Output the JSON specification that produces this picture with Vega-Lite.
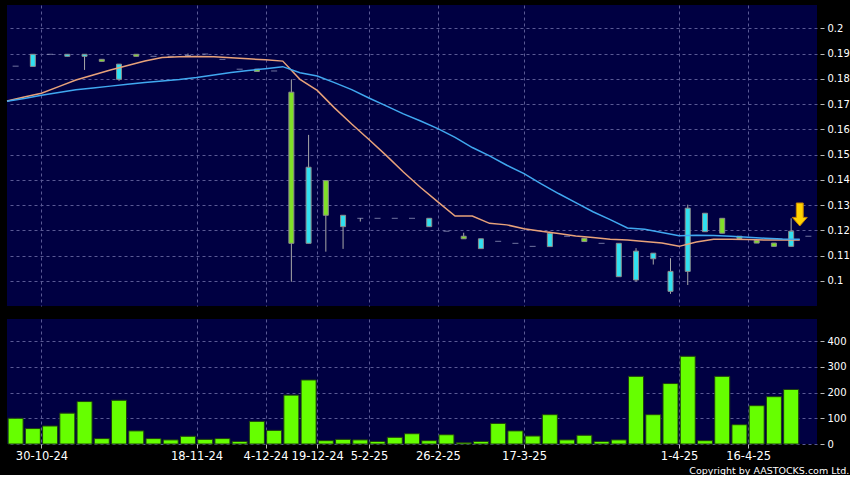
{
  "$schema": "https://vega.github.io/schema/vega-lite/v6.json",
  "background": "#000000",
  "padding": {"left": 4, "top": 5, "right": 0, "bottom": 0},
  "autosize": {"type": "pad"},
  "config": {
    "view": {"fill": "#000042", "stroke": null},
    "scale": {"continuousPadding": 0},
    "axis": {"gridColor": "#5a5a95", "gridDash": [3, 3], "gridWidth": 1, "labelColor": "#ffffff", "tickColor": "#bbbbbb", "domain": false, "labelFont": "DejaVu Sans", "titleFont": "DejaVu Sans"}
  },
  "title": {"text": "Copyright by AASTOCKS.com Ltd.", "orient": "bottom", "anchor": "end", "fontSize": 9.5, "fontWeight": "normal", "color": "#ffffff", "font": "DejaVu Sans", "offset": 4},
  "datasets": {
    "candles": [
      {"i": 0, "o": 0.185, "h": 0.185, "l": 0.185, "c": 0.185, "v": 100},
      {"i": 1, "o": 0.1849, "h": 0.1897, "l": 0.1849, "c": 0.1897, "v": 60},
      {"i": 2, "o": 0.1897, "h": 0.1897, "l": 0.1897, "c": 0.1897, "v": 70},
      {"i": 3, "o": 0.1889, "h": 0.1897, "l": 0.1889, "c": 0.1897, "v": 120},
      {"i": 4, "o": 0.1889, "h": 0.1897, "l": 0.1835, "c": 0.1897, "v": 165},
      {"i": 5, "o": 0.1877, "h": 0.1877, "l": 0.1869, "c": 0.1869, "v": 21},
      {"i": 6, "o": 0.1798, "h": 0.1858, "l": 0.1792, "c": 0.1858, "v": 170},
      {"i": 7, "o": 0.1897, "h": 0.1897, "l": 0.1889, "c": 0.1889, "v": 51},
      {"i": 8, "o": 0.1889, "h": 0.1889, "l": 0.1889, "c": 0.1889, "v": 21},
      {"i": 9, "o": 0.1889, "h": 0.1889, "l": 0.1889, "c": 0.1889, "v": 16},
      {"i": 10, "o": 0.1892, "h": 0.19, "l": 0.1892, "c": 0.1892, "v": 30},
      {"i": 11, "o": 0.1898, "h": 0.1898, "l": 0.1898, "c": 0.1898, "v": 18},
      {"i": 12, "o": 0.1877, "h": 0.1877, "l": 0.1877, "c": 0.1877, "v": 21},
      {"i": 13, "o": 0.1838, "h": 0.1838, "l": 0.1838, "c": 0.1838, "v": 10},
      {"i": 14, "o": 0.1838, "h": 0.1838, "l": 0.1829, "c": 0.1829, "v": 88},
      {"i": 15, "o": 0.1831, "h": 0.1831, "l": 0.1831, "c": 0.1831, "v": 53},
      {"i": 16, "o": 0.1747, "h": 0.1798, "l": 0.0997, "c": 0.1149, "v": 190},
      {"i": 17, "o": 0.1149, "h": 0.1578, "l": 0.1149, "c": 0.145, "v": 249},
      {"i": 18, "o": 0.1397, "h": 0.1397, "l": 0.1116, "c": 0.126, "v": 13},
      {"i": 19, "o": 0.1215, "h": 0.126, "l": 0.1127, "c": 0.126, "v": 18},
      {"i": 20, "o": 0.1248, "h": 0.1248, "l": 0.1235, "c": 0.1248, "v": 16},
      {"i": 21, "o": 0.1248, "h": 0.1248, "l": 0.1248, "c": 0.1248, "v": 10},
      {"i": 22, "o": 0.1248, "h": 0.1248, "l": 0.1248, "c": 0.1248, "v": 26},
      {"i": 23, "o": 0.1248, "h": 0.1248, "l": 0.1248, "c": 0.1248, "v": 40},
      {"i": 24, "o": 0.1215, "h": 0.1248, "l": 0.1215, "c": 0.1248, "v": 13},
      {"i": 25, "o": 0.1197, "h": 0.1197, "l": 0.1197, "c": 0.1197, "v": 36},
      {"i": 26, "o": 0.1177, "h": 0.1191, "l": 0.1167, "c": 0.1167, "v": 5},
      {"i": 27, "o": 0.1128, "h": 0.1167, "l": 0.1128, "c": 0.1167, "v": 10},
      {"i": 28, "o": 0.1157, "h": 0.1157, "l": 0.1157, "c": 0.1157, "v": 80},
      {"i": 29, "o": 0.1149, "h": 0.1149, "l": 0.1149, "c": 0.1149, "v": 51},
      {"i": 30, "o": 0.1137, "h": 0.1137, "l": 0.1137, "c": 0.1137, "v": 31},
      {"i": 31, "o": 0.1136, "h": 0.1195, "l": 0.1136, "c": 0.1189, "v": 114},
      {"i": 32, "o": 0.1177, "h": 0.1177, "l": 0.1177, "c": 0.1177, "v": 16},
      {"i": 33, "o": 0.1169, "h": 0.1169, "l": 0.1156, "c": 0.1156, "v": 34},
      {"i": 34, "o": 0.1149, "h": 0.1149, "l": 0.1149, "c": 0.1149, "v": 10},
      {"i": 35, "o": 0.1017, "h": 0.1149, "l": 0.1017, "c": 0.1149, "v": 16},
      {"i": 36, "o": 0.1004, "h": 0.113, "l": 0.0997, "c": 0.1118, "v": 263},
      {"i": 37, "o": 0.1088, "h": 0.111, "l": 0.1065, "c": 0.111, "v": 114},
      {"i": 38, "o": 0.0959, "h": 0.109, "l": 0.0949, "c": 0.1038, "v": 235},
      {"i": 39, "o": 0.1038, "h": 0.1302, "l": 0.0984, "c": 0.1288, "v": 341},
      {"i": 40, "o": 0.1195, "h": 0.1268, "l": 0.1195, "c": 0.1268, "v": 13},
      {"i": 41, "o": 0.1248, "h": 0.1248, "l": 0.1189, "c": 0.1189, "v": 263},
      {"i": 42, "o": 0.1177, "h": 0.1177, "l": 0.1168, "c": 0.1168, "v": 75},
      {"i": 43, "o": 0.116, "h": 0.116, "l": 0.115, "c": 0.115, "v": 149},
      {"i": 44, "o": 0.115, "h": 0.115, "l": 0.1137, "c": 0.1137, "v": 184},
      {"i": 45, "o": 0.1137, "h": 0.1248, "l": 0.1137, "c": 0.1197, "v": 212},
      {"i": 46, "o": 0.1177, "h": 0.1177, "l": 0.1177, "c": 0.1177}
    ],
    "ma": [
      {"i": -1, "m1": 0.1712, "m2": 0.1711},
      {"i": 0, "m1": 0.1728, "m2": 0.1722},
      {"i": 1, "m1": 0.1743, "m2": 0.1735},
      {"i": 2, "m1": 0.1769, "m2": 0.1746},
      {"i": 3, "m1": 0.1795, "m2": 0.1757},
      {"i": 4, "m1": 0.1815, "m2": 0.1764},
      {"i": 5, "m1": 0.1835, "m2": 0.1771},
      {"i": 6, "m1": 0.1853, "m2": 0.1778},
      {"i": 7, "m1": 0.187, "m2": 0.1785},
      {"i": 8, "m1": 0.1884, "m2": 0.1791},
      {"i": 9, "m1": 0.1887, "m2": 0.1797},
      {"i": 10, "m1": 0.1888, "m2": 0.1805},
      {"i": 11, "m1": 0.1887, "m2": 0.1815},
      {"i": 12, "m1": 0.1883, "m2": 0.1825},
      {"i": 13, "m1": 0.1879, "m2": 0.1833},
      {"i": 14, "m1": 0.1875, "m2": 0.184},
      {"i": 15, "m1": 0.187, "m2": 0.1848},
      {"i": 16, "m1": 0.1798, "m2": 0.1824},
      {"i": 17, "m1": 0.1754, "m2": 0.1811},
      {"i": 18, "m1": 0.1685, "m2": 0.1785},
      {"i": 19, "m1": 0.1621, "m2": 0.1757},
      {"i": 20, "m1": 0.156, "m2": 0.1724},
      {"i": 21, "m1": 0.1497, "m2": 0.1693},
      {"i": 22, "m1": 0.1431, "m2": 0.1661},
      {"i": 23, "m1": 0.137, "m2": 0.1633},
      {"i": 24, "m1": 0.1313, "m2": 0.1603},
      {"i": 25, "m1": 0.1257, "m2": 0.1568},
      {"i": 26, "m1": 0.1257, "m2": 0.1528},
      {"i": 27, "m1": 0.1228, "m2": 0.1495},
      {"i": 28, "m1": 0.1222, "m2": 0.1458},
      {"i": 29, "m1": 0.1207, "m2": 0.1425},
      {"i": 30, "m1": 0.1197, "m2": 0.1384},
      {"i": 31, "m1": 0.1188, "m2": 0.1346},
      {"i": 32, "m1": 0.1178, "m2": 0.131},
      {"i": 33, "m1": 0.1172, "m2": 0.1274},
      {"i": 34, "m1": 0.1165, "m2": 0.1243},
      {"i": 35, "m1": 0.1162, "m2": 0.121},
      {"i": 36, "m1": 0.1156, "m2": 0.1205},
      {"i": 37, "m1": 0.115, "m2": 0.1192},
      {"i": 38, "m1": 0.1137, "m2": 0.1179},
      {"i": 39, "m1": 0.1154, "m2": 0.1181},
      {"i": 40, "m1": 0.1165, "m2": 0.118},
      {"i": 41, "m1": 0.1165, "m2": 0.1177},
      {"i": 42, "m1": 0.1164, "m2": 0.1173},
      {"i": 43, "m1": 0.1162, "m2": 0.1169},
      {"i": 44, "m1": 0.1162, "m2": 0.1166},
      {"i": 45, "m1": 0.1162, "m2": 0.1165}
    ],
    "marks": [{"i": 45.5, "p": 0.1263}]
  },
  "spacing": 13,
  "vconcat": [
    {
      "width": 810,
      "height": 301,
      "layer": [
        {
          "data": {"name": "candles"},
          "encoding": {
            "x": {"field": "i", "type": "quantitative", "scale": {"domain": [-0.5, 46.5], "nice": false, "zero": false, "padding": 0},
              "axis": {"values": [1.5, 10.5, 14.5, 17.5, 20.5, 24.5, 29.5, 38.5, 42.5], "grid": true, "labels": false, "ticks": false, "domain": false, "title": null}}
          },
          "layer": [
            {
              "mark": {"type": "rule", "color": "#a8a8a8", "strokeWidth": 1},
              "encoding": {
                "y": {"field": "l", "type": "quantitative", "scale": {"domain": [0.0901, 0.2092], "nice": false, "zero": false, "padding": 0},
                  "axis": {"orient": "right", "values": [0.1, 0.11, 0.12, 0.13, 0.14, 0.15, 0.16, 0.17, 0.18, 0.19, 0.2], "format": ".2~f", "tickSize": 7, "tickDash": [0, 3, 4], "labelPadding": 3, "labelFontSize": 10, "title": null, "grid": true}},
                "y2": {"field": "h"}
              }
            },
            {
              "transform": [{"filter": "datum.o != datum.c"}],
              "mark": {"type": "bar", "size": 5, "stroke": "#8c8c8c", "strokeWidth": 1},
              "encoding": {
                "y": {"field": "o", "type": "quantitative", "scale": {"domain": [0.0901, 0.2092], "nice": false, "zero": false, "padding": 0},
                  "axis": {"orient": "right", "values": [0.1, 0.11, 0.12, 0.13, 0.14, 0.15, 0.16, 0.17, 0.18, 0.19, 0.2], "format": ".2~f", "tickSize": 7, "tickDash": [0, 3, 4], "labelPadding": 3, "labelFontSize": 10, "title": null, "grid": true}},
                "y2": {"field": "c"},
                "color": {"condition": {"test": "datum.c > datum.o", "value": "#30E0F0"}, "value": "#80E028"}
              }
            },
            {
              "transform": [{"filter": "datum.o == datum.c"}],
              "mark": {"type": "tick", "orient": "horizontal", "size": 6, "thickness": 1, "color": "#a0a4c8"},
              "encoding": {
                "y": {"field": "c", "type": "quantitative", "scale": {"domain": [0.0901, 0.2092], "nice": false, "zero": false, "padding": 0},
                  "axis": {"orient": "right", "values": [0.1, 0.11, 0.12, 0.13, 0.14, 0.15, 0.16, 0.17, 0.18, 0.19, 0.2], "format": ".2~f", "tickSize": 7, "tickDash": [0, 3, 4], "labelPadding": 3, "labelFontSize": 10, "title": null, "grid": true}}
              }
            },
            {
              "data": {"name": "marks"},
              "mark": {"type": "point", "shape": "M-0.3,-1L0.3,-1L0.3,0.25L0.65,0.25L0,1L-0.65,0.25L-0.3,0.25Z", "size": 529, "filled": true, "fill": "#FFD200", "stroke": "#C88400", "strokeWidth": 1, "opacity": 1},
              "encoding": {
                "y": {"field": "p", "type": "quantitative", "scale": {"domain": [0.0901, 0.2092], "nice": false, "zero": false, "padding": 0},
                  "axis": {"orient": "right", "values": [0.1, 0.11, 0.12, 0.13, 0.14, 0.15, 0.16, 0.17, 0.18, 0.19, 0.2], "format": ".2~f", "tickSize": 7, "tickDash": [0, 3, 4], "labelPadding": 3, "labelFontSize": 10, "title": null, "grid": true}}
              }
            }
          ]
        },
        {
          "data": {"name": "ma"},
          "encoding": {
            "x": {"field": "i", "type": "quantitative", "scale": {"domain": [-1, 46], "nice": false, "zero": false, "padding": 0}, "axis": null}
          },
          "layer": [
            {
              "mark": {"type": "line", "color": "#E8A27A", "strokeWidth": 1.5},
              "encoding": {
                "y": {"field": "m1", "type": "quantitative", "scale": {"domain": [0.0901, 0.2092], "nice": false, "zero": false, "padding": 0},
                  "axis": {"orient": "right", "values": [0.1, 0.11, 0.12, 0.13, 0.14, 0.15, 0.16, 0.17, 0.18, 0.19, 0.2], "format": ".2~f", "tickSize": 7, "tickDash": [0, 3, 4], "labelPadding": 3, "labelFontSize": 10, "title": null, "grid": true}}
              }
            },
            {
              "mark": {"type": "line", "color": "#40A8F0", "strokeWidth": 1.5},
              "encoding": {
                "y": {"field": "m2", "type": "quantitative", "scale": {"domain": [0.0901, 0.2092], "nice": false, "zero": false, "padding": 0},
                  "axis": {"orient": "right", "values": [0.1, 0.11, 0.12, 0.13, 0.14, 0.15, 0.16, 0.17, 0.18, 0.19, 0.2], "format": ".2~f", "tickSize": 7, "tickDash": [0, 3, 4], "labelPadding": 3, "labelFontSize": 10, "title": null, "grid": true}}
              }
            }
          ]
        }
      ],
      "resolve": {"scale": {"x": "independent"}}
    },
    {
      "width": 810,
      "height": 125,
      "data": {"name": "candles"},
      "transform": [{"filter": "isValid(datum.v)"}],
      "mark": {"type": "bar", "size": 15, "color": "#66FF00", "stroke": "#1f3f10", "strokeWidth": 1},
      "encoding": {
        "x": {"field": "i", "type": "quantitative", "scale": {"domain": [-0.5, 46.5], "nice": false, "zero": false, "padding": 0},
          "axis": {"values": [1.5, 10.5, 14.5, 17.5, 20.5, 24.5, 29.5, 38.5, 42.5],
            "labelExpr": "datum.value == 1.5 ? '30-10-24' : datum.value == 10.5 ? '18-11-24' : datum.value == 14.5 ? '4-12-24' : datum.value == 17.5 ? '19-12-24' : datum.value == 20.5 ? '5-2-25' : datum.value == 24.5 ? '26-2-25' : datum.value == 29.5 ? '17-3-25' : datum.value == 38.5 ? '1-4-25' : '16-4-25'",
            "grid": true, "ticks": true, "tickSize": 4, "labelFontSize": 11.5, "labelPadding": 2, "labelOverlap": false, "labelFlush": false, "labelBound": false, "title": null}},
        "y": {"field": "v", "type": "quantitative", "scale": {"domain": [0, 486], "nice": false, "padding": 0},
          "axis": {"orient": "right", "values": [0, 100, 200, 300, 400], "tickSize": 7, "tickDash": [0, 3, 4], "labelPadding": 3, "labelFontSize": 10, "title": null, "grid": true}}
      }
    }
  ]
}
